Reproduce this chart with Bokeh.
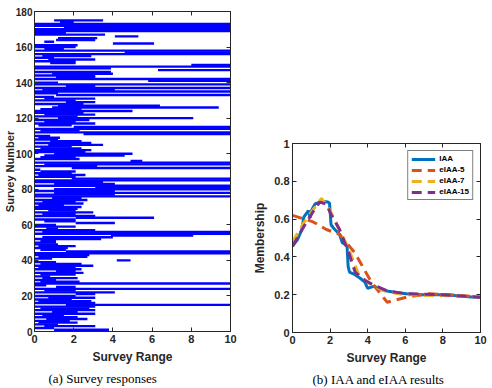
from bokeh.plotting import figure
from bokeh.layouts import row
from bokeh.models import (Range1d, LinearAxis, Legend, LegendItem, FixedTicker, Title,
                          CustomLabelingPolicy, CustomJSTickFormatter)
from bokeh.embed import file_html
from bokeh.resources import INLINE

# ---------------- (a) Survey responses ----------------
survey_ids = list(range(1, 176))
left_ends = [
    1.0, 0.0, 0.5, 0.0, 0.2, 0.0, 0.6, 0.0, 0.4, 0.0,   # 1-10
    0.9, 0.0, 0.3, 0.0, 1.6, 0.0, 0.2, 0.0, 0.7, 0.0,   # 11-20
    2.1, 0.0, 0.5, 0.0, 1.1, 0.0, 0.0, 0.3, 0.0, 0.4,   # 21-30
    0.0, 0.3, 0.0, 1.1, 0.0, 0.2, 0.0, 0.3, 0.0, 4.2,   # 31-40
    0.0, 0.2, 0.0, 0.0, 1.6, 0.3, 0.0, 0.2, 0.0, 0.0,   # 41-50
    0.3, 0.0, 0.4, 3.9, 0.0, 0.4, 0.0, 0.6, 0.0, 0.0,   # 51-60
    2.1, 0.5, 0.0, 2.1, 0.0, 0.4, 0.0, 0.7, 0.0, 0.0,   # 61-70
    0.2, 0.0, 0.4, 0.0, 0.9, 0.0, 0.0, 1.0, 0.0, 1.0,   # 71-80
    3.1, 0.0, 1.0, 0.0, 0.0, 1.9, 0.0, 0.2, 0.0, 0.3,   # 81-90
    0.0, 1.9, 0.0, 0.5, 0.0, 4.9, 0.0, 0.3, 0.5, 1.0,   # 91-100
    0.0, 0.0, 0.3, 0.0, 0.7, 0.0, 0.8, 0.0, 0.2, 0.0,   # 101-110
    2.5, 0.0, 0.3, 0.0, 2.0, 0.2, 0.0, 0.5, 0.0, 1.2,   # 111-120
    0.0, 0.5, 0.0, 0.0, 0.3, 0.9, 1.2, 0.0, 1.6, 0.0,   # 121-130
    0.5, 0.0, 1.1, 0.0, 0.0, 0.4, 0.0, 1.6, 0.0, 0.0,   # 131-140
    5.8, 0.0, 1.1, 0.0, 0.9, 0.0, 6.3, 0.0, 0.0, 8.0,   # 141-150
    0.8, 0.0, 0.7, 0.0, 0.4, 0.0, 4.6, 0.0, 0.5, 0.0,   # 151-160
    0.0, 4.0, 0.5, 1.1, 1.2, 4.1, 0.0, 0.0, 0.0, 0.0,   # 161-170
    1.5, 0.0, 0.0, 1.3, 1.0,                            # 171-175
]
right_ends = [
    3.8, 1.0, 3.1, 1.2, 2.2, 1.8, 2.7, 2.2, 1.5, 3.1,   # 1-10
    2.2, 3.1, 2.8, 3.1, 10, 3.1, 2.9, 1.9, 3.1, 2.1,    # 11-20
    3.1, 4.1, 2.1, 10, 2.1, 0.6, 10, 2.3, 1.1, 2.2,     # 21-30
    0.8, 2.1, 2.5, 2.1, 2.4, 2.1, 3.0, 2.4, 1.1, 4.9,   # 31-40
    0.9, 2.7, 2.8, 10, 10, 1.6, 1.7, 2.1, 1.2, 1.1,     # 41-50
    1.1, 3.4, 4.0, 8.1, 10, 10, 3.1, 1.2, 2.1, 1.1,     # 51-60
    4.1, 2.1, 2.1, 6.1, 3.1, 2.1, 3.0, 2.1, 2.2, 2.4,   # 61-70
    1.5, 2.5, 2.1, 2.7, 2.4, 10, 4.1, 10, 4.1, 10,      # 71-80
    10, 10, 4.1, 3.5, 10, 10, 2.1, 2.6, 1.9, 2.1,       # 81-90
    0.3, 10, 3.2, 10, 10, 5.5, 2.3, 2.1, 4.6, 5.0,      # 91-100
    2.6, 2.9, 2.4, 1.9, 3.5, 2.9, 2.4, 1.2, 1.3, 0.8,   # 101-110
    10, 10, 2.3, 10, 10, 1.9, 3.1, 2.1, 2.8, 8.1,       # 111-120
    2.2, 3.1, 2.5, 5.0, 2.4, 9.4, 6.4, 2.5, 3.1, 2.1,   # 121-130
    3.1, 1.0, 10, 1.2, 10, 4.1, 10, 3.1, 10, 1.2,       # 131-140
    10, 10, 3.1, 3.1, 4.0, 3.9, 10, 3.9, 10, 10,        # 141-150
    2.1, 2.1, 3.1, 1.0, 2.9, 10, 10, 10, 1.5, 2.1,      # 151-160
    2.2, 6.1, 1.0, 3.1, 3.2, 5.3, 3.6, 1.6, 10, 10,     # 161-170
    10, 10, 10, 2.0, 3.5,                               # 171-175
]

# ---------------- (b) IAA and eIAA results ----------------
iaa_x = [0, 0.26, 0.5, 0.6, 0.85, 0.94, 1.03, 1.2, 1.54, 1.88, 1.97, 2.05, 2.2, 2.5,
         2.65, 2.9, 2.96, 3.03, 3.33, 3.6, 3.85, 4.0, 4.19, 4.36, 4.6, 5.04, 5.56,
         6.07, 6.9, 7.95, 8.6, 9.5, 10]
iaa_y = [0.458, 0.49, 0.545, 0.61, 0.645, 0.607, 0.65, 0.68, 0.694, 0.69, 0.685, 0.57,
         0.55, 0.52, 0.475, 0.46, 0.35, 0.32, 0.306, 0.287, 0.266, 0.234, 0.24, 0.245,
         0.23, 0.22, 0.21, 0.205, 0.2, 0.2, 0.196, 0.188, 0.188]
e5_x = [0, 1.1, 1.8, 2.5, 3.33, 4.2, 5.04, 5.4, 6.07, 7.26, 8.3, 10]
e5_y = [0.62, 0.585, 0.545, 0.52, 0.42, 0.265, 0.16, 0.17, 0.187, 0.205, 0.2, 0.187]
e7_x = [0, 0.6, 1.1, 1.54, 1.97, 2.5, 3.0, 3.5, 4.2, 4.9, 5.9, 10]
e7_y = [0.48, 0.58, 0.65, 0.71, 0.65, 0.545, 0.44, 0.31, 0.25, 0.22, 0.2, 0.19]
e15_x = [0, 0.6, 1.1, 1.45, 1.8, 2.05, 2.5, 3.0, 3.33, 3.85, 4.36, 5.04, 6.07, 7.8, 10]
e15_y = [0.455, 0.56, 0.64, 0.69, 0.68, 0.625, 0.545, 0.42, 0.32, 0.275, 0.25, 0.22,
         0.205, 0.2, 0.187]
series_names = ["IAA", "eIAA-5", "eIAA-7", "eIAA-15"]
series_colors = ["#0072BD", "#D95319", "#EDB120", "#7E2F8E"]

FONT = "Liberation Sans"
INK = "#262626"


def style_axes(p, xticks, yticks, tick_font="11px"):
    for ax in p.axis:
        ax.major_tick_in = 4
        ax.major_tick_out = 0
        ax.minor_tick_in = 0
        ax.minor_tick_out = 0
        ax.axis_line_color = INK
        ax.major_tick_line_color = INK
        ax.major_label_text_font = FONT
        ax.major_label_text_font_style = "bold"
        ax.major_label_text_font_size = tick_font
        ax.major_label_text_color = INK
        ax.axis_label_text_font = FONT
        ax.axis_label_text_font_style = "bold"
        ax.axis_label_text_font_size = "12px"
        ax.axis_label_text_color = INK
    p.xaxis.ticker = FixedTicker(ticks=xticks)
    p.yaxis.ticker = FixedTicker(ticks=yticks)
    p.xgrid.visible = False
    p.ygrid.visible = False
    p.outline_line_color = INK
    # MATLAB-style box: inward ticks on the top and right edges, no labels
    for loc, tk in (("above", xticks), ("right", yticks)):
        extra = LinearAxis(ticker=FixedTicker(ticks=tk), major_tick_in=4, major_tick_out=0,
                           minor_tick_in=0, minor_tick_out=0,
                           formatter=CustomJSTickFormatter(code="return ''"),
                           major_label_policy=CustomLabelingPolicy(code="return new Set()"),
                           major_label_standoff=0, axis_line_color=INK,
                           major_tick_line_color=INK)
        p.add_layout(extra, loc)


def caption(text, offset):
    return Title(text=text, align="left", offset=offset, text_font="Liberation Serif",
                 text_font_size="13px", text_font_style="normal", text_color="black",
                 standoff=4)


# ---- left figure
p1 = figure(width=250, height=388, output_backend="svg", toolbar_location=None,
            x_range=Range1d(0, 10), y_range=Range1d(0, 180),
            min_border_left=33, min_border_right=20, min_border_top=11, min_border_bottom=57)
p1.frame_align = False
p1.segment(x0=left_ends, y0=survey_ids, x1=right_ends, y1=survey_ids,
           line_color="#0000FF", line_width=2.4)
p1.xaxis.axis_label = "Survey Range"
p1.yaxis.axis_label = "Survey Number"
style_axes(p1, [0, 2, 4, 6, 8, 10], list(range(0, 181, 20)))
p1.yaxis.major_label_text_font_size = "10px"
p1.yaxis.axis_label_text_font_size = "11px"
p1.yaxis.axis_label_standoff = -3
p1.yaxis.major_label_standoff = 2
p1.xaxis.major_label_standoff = 3
p1.xaxis.axis_label_standoff = 4
p1.add_layout(caption("(a) Survey responses", 14), "below")

# ---- right figure
p2 = figure(width=242, height=388, output_backend="svg", toolbar_location=None,
            x_range=Range1d(0, 10), y_range=Range1d(0, 1),
            min_border_left=42, min_border_right=5, min_border_top=143, min_border_bottom=54)
p2.frame_align = False
renderers = []
for xs, ys, col, dash in ((iaa_x, iaa_y, series_colors[0], "solid"),
                          (e5_x, e5_y, series_colors[1], "10 6"),
                          (e7_x, e7_y, series_colors[2], "10 6"),
                          (e15_x, e15_y, series_colors[3], "10 6")):
    r = p2.line(xs, ys, line_color=col, line_width=3, line_dash=dash)
    renderers.append(r)
p2.xaxis.axis_label = "Survey Range"
p2.yaxis.axis_label = "Membership"
style_axes(p2, [0, 2, 4, 6, 8, 10], [0, 0.2, 0.4, 0.6, 0.8, 1])
p2.yaxis.major_label_overrides = {0: "0", 1: "1"}
p2.yaxis.axis_label_standoff = 4
p2.yaxis.major_label_standoff = 3
p2.xaxis.major_label_standoff = 3
p2.xaxis.axis_label_standoff = 4

legend = Legend(items=[LegendItem(label=n, renderers=[r]) for n, r in zip(series_names, renderers)],
                location="top_right", label_text_font=FONT, label_text_font_style="bold",
                label_text_font_size="8px", label_text_color="black", label_height=8,
                glyph_height=8, glyph_width=24, spacing=2, padding=3, margin=7,
                label_standoff=4, border_line_color="black", border_line_width=1,
                background_fill_alpha=1.0)
p2.add_layout(legend)
p2.add_layout(caption("(b) IAA and eIAA results", 20), "below")

layout = row(p1, p2)
open("out.html", "w").write(file_html(layout, INLINE))
